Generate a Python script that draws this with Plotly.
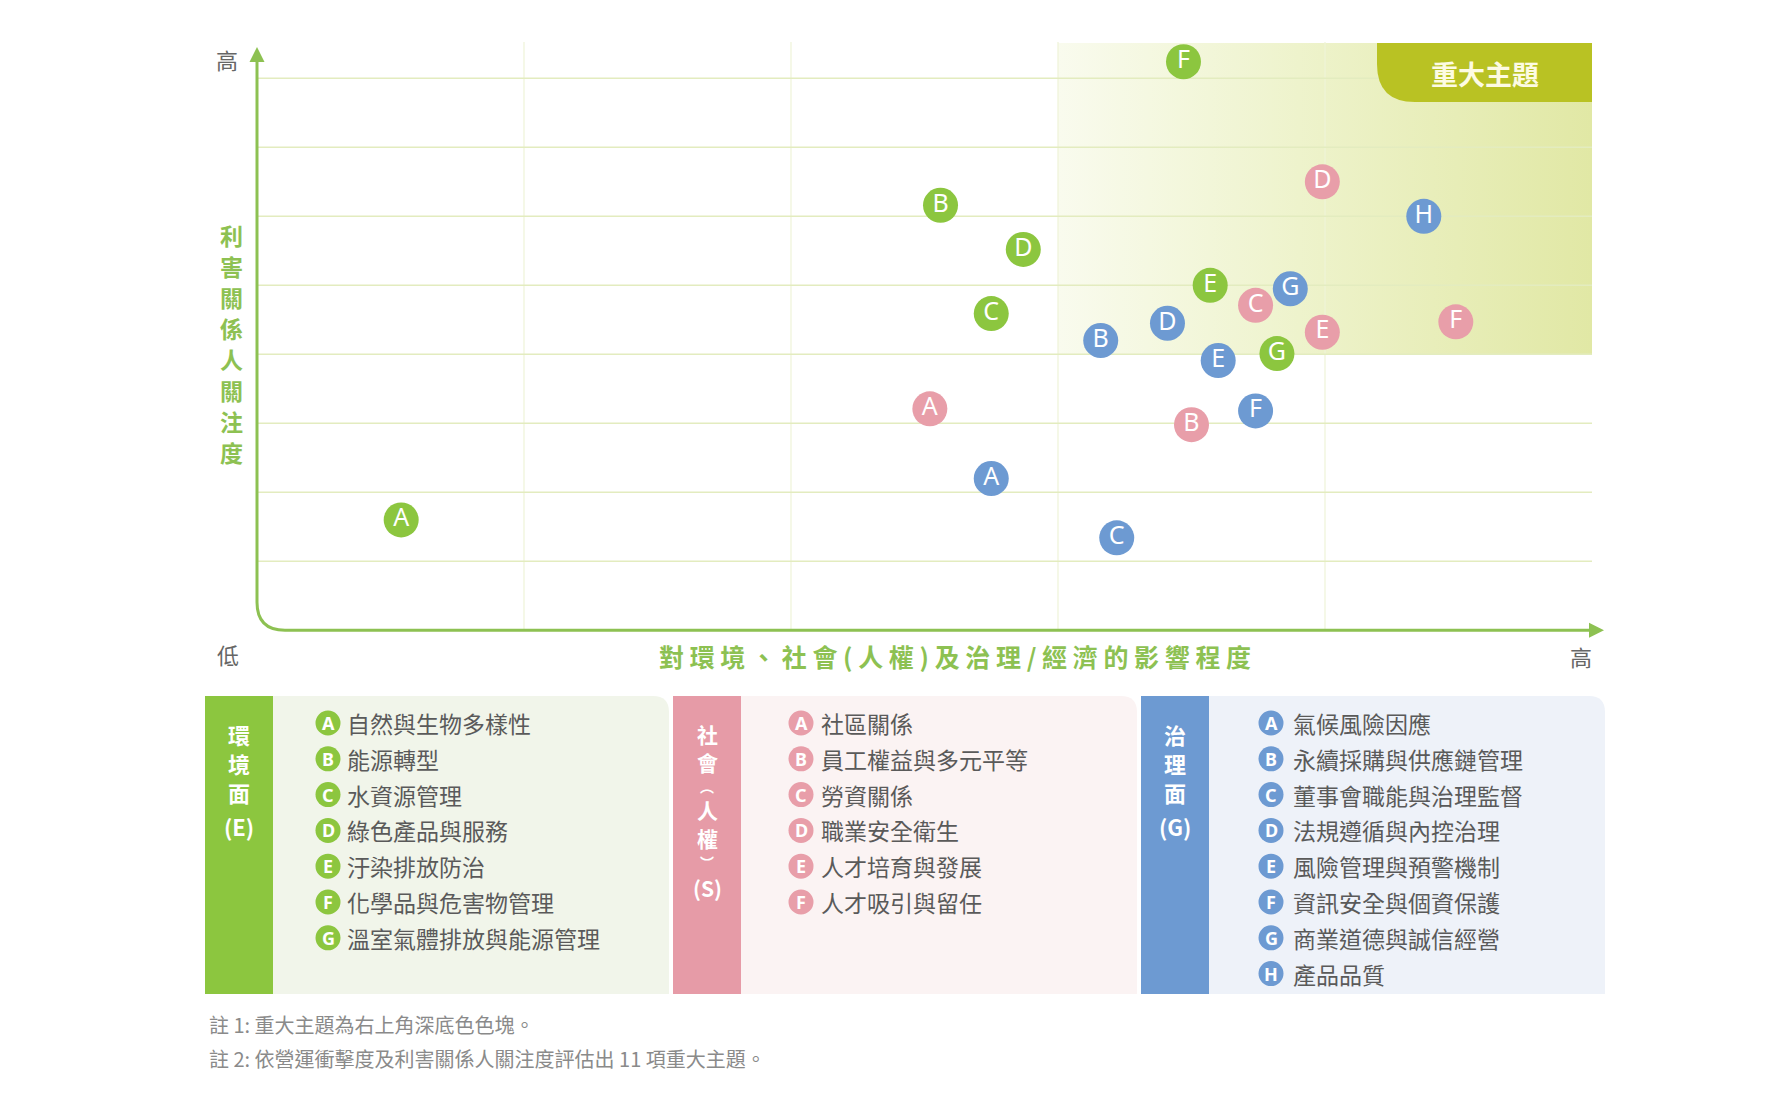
import plotly.graph_objects as go

W, H = 1771, 1108

# --- data -------------------------------------------------------------
env_codes = ["A", "B", "C", "D", "E", "F", "G"]
env_impact = [0.54, 2.56, 2.75, 2.87, 3.57, 3.47, 3.82]
env_concern = [1.60, 6.16, 4.59, 5.52, 5.00, 8.24, 4.01]
env_topics = ["自然與生物多樣性", "能源轉型", "水資源管理", "綠色產品與服務",
              "汙染排放防治", "化學品與危害物管理", "溫室氣體排放與能源管理"]

soc_codes = ["A", "B", "C", "D", "E", "F"]
soc_impact = [2.52, 3.50, 3.74, 3.99, 3.99, 4.49]
soc_concern = [3.21, 2.98, 4.71, 6.50, 4.32, 4.47]
soc_topics = ["社區關係", "員工權益與多元平等", "勞資關係", "職業安全衛生",
              "人才培育與發展", "人才吸引與留任"]

gov_codes = ["A", "B", "C", "D", "E", "F", "G", "H"]
gov_impact = [2.75, 3.16, 3.22, 3.41, 3.60, 3.74, 3.87, 4.37]
gov_concern = [2.20, 4.20, 1.34, 4.45, 3.91, 3.18, 4.95, 6.00]
gov_topics = ["氣候風險因應", "永續採購與供應鏈管理", "董事會職能與治理監督",
              "法規遵循與內控治理", "風險管理與預警機制", "資訊安全與個資保護",
              "商業道德與誠信經營", "產品品質"]

grid_x = [1, 2, 3, 4]
grid_y = [1, 2, 3, 4, 5, 6, 7, 8]
X_MAX = 5
MAT_X, MAT_Y = 3, 4          # 重大主題 threshold

notes = ["註 1: 重大主題為右上角深底色色塊。",
         "註 2: 依營運衝擊度及利害關係人關注度評估出 11 項重大主題。"]

# --- style ------------------------------------------------------------
GREEN = "#8cc63f"
PINK = "#e89ea9"
BLUE = "#6d9ad2"
AXIS_GREEN = "#8dc152"
CJK = "Noto Sans CJK TC"

# page body margin shifts the figure
OFF = 8

# pixel geometry of the plotting frame (page pixels)
PX_X0, PX_PER_X = 257, 267
PX_Y0, PX_PER_Y = 630.3, 69


def dx(p):
    return p / PX_PER_X


def dy(p):
    return p / PX_PER_Y


def fx(p):
    return (p - OFF) / W


def fy(p):
    return 1 - (p - OFF) / H


Y_TOP = (PX_Y0 - 43) / PX_PER_Y

fig = go.Figure()

# shaded material area
fig.add_trace(go.Scatter(
    x=[MAT_X, X_MAX, X_MAX, MAT_X, MAT_X],
    y=[MAT_Y, MAT_Y, Y_TOP, Y_TOP, MAT_Y],
    mode="lines", fill="toself", line=dict(width=0),
    fillgradient=dict(type="horizontal",
                      colorscale=[[0, "#f9fbee"], [0.45, "#eef3cc"], [1, "#e1e8a5"]]),
    hoverinfo="skip", showlegend=False,
))

# grid lines
hx, hy = [], []
for g in grid_y:
    hx += [0, X_MAX, None]
    hy += [g, g, None]
vx, vy = [], []
for g in grid_x:
    vx += [g, g, None]
    vy += [0, Y_TOP + dy(1), None]
fig.add_trace(go.Scatter(x=vx, y=vy, mode="lines", line=dict(color="#eef3d8", width=1.2),
                         hoverinfo="skip", showlegend=False))
fig.add_trace(go.Scatter(x=hx, y=hy, mode="lines", line=dict(color="#e3ecbf", width=1.6),
                         hoverinfo="skip", showlegend=False))

# topic markers
for codes, xs, ys, col in [(env_codes, env_impact, env_concern, GREEN),
                           (soc_codes, soc_impact, soc_concern, PINK),
                           (gov_codes, gov_impact, gov_concern, BLUE)]:
    fig.add_trace(go.Scatter(
        x=xs, y=ys, text=codes, mode="markers+text",
        marker=dict(size=35, color=col, line=dict(width=0)),
        textposition="middle center",
        textfont=dict(family="Noto Sans", size=25, color="white"),
        hoverinfo="skip", showlegend=False,
    ))

shapes = []
# axis lines with rounded corner
r_x, r_y = dx(28), dy(28)
y_arrow_base = (PX_Y0 - 62) / PX_PER_Y
y_arrow_tip = (PX_Y0 - 47) / PX_PER_Y
x_arrow_base = X_MAX + dx(-3)
x_arrow_tip = X_MAX + dx(12)
shapes.append(dict(
    type="path", xref="x", yref="y", layer="above",
    path=f"M 0,{y_arrow_base} L 0,{r_y} Q 0,0 {r_x},0 L {x_arrow_base},0",
    line=dict(color=AXIS_GREEN, width=3),
))
shapes.append(dict(
    type="path", xref="x", yref="y", layer="above",
    path=f"M {-dx(7.5)},{y_arrow_base} L 0,{y_arrow_tip} L {dx(7.5)},{y_arrow_base} Z",
    fillcolor=AXIS_GREEN, line=dict(width=0),
))
shapes.append(dict(
    type="path", xref="x", yref="y", layer="above",
    path=f"M {x_arrow_base},{dy(7.5)} L {x_arrow_tip},0 L {x_arrow_base},{-dy(7.5)} Z",
    fillcolor=AXIS_GREEN, line=dict(width=0),
))

# 重大主題 tab
tab_x0 = (1377 - PX_X0) / PX_PER_X
tab_y0 = (PX_Y0 - 102) / PX_PER_Y
rr_x, rr_y = dx(38), dy(38)
shapes.append(dict(
    type="path", xref="x", yref="y", layer="above",
    path=(f"M {tab_x0},{Y_TOP} L {X_MAX},{Y_TOP} L {X_MAX},{tab_y0} "
          f"L {tab_x0 + rr_x},{tab_y0} Q {tab_x0},{tab_y0} {tab_x0},{tab_y0 + rr_y} Z"),
    fillcolor="#b9c223", line=dict(width=0),
))

annotations = []


def text(x, y, s, size, color, anchor="center", weight="normal", family=CJK, ref="paper"):
    annotations.append(dict(
        x=x, y=y, xref=ref if ref == "paper" else "x", yref=ref if ref == "paper" else "y",
        text=s, showarrow=False, xanchor=anchor, yanchor="middle",
        font=dict(family=family, size=size, color=color, weight=weight),
    ))


text((tab_x0 + X_MAX) / 2, (Y_TOP + tab_y0) / 2 - dy(1), "重大主題", 27, "#fdfbe3",
     weight="bold", ref="data")

# axis end labels and titles
text(fx(227), fy(59), "高", 22, "#666666")
text(fx(228), fy(654), "低", 22, "#666666")
text(fx(1581), fy(656), "高", 22, "#666666")
for i, ch in enumerate("利害關係人關注度"):
    text(fx(232), fy(235 + i * 31), ch, 23, AXIS_GREEN, weight="bold")
text(fx(955), fy(656), " ".join("對環境、社會(人權)及治理/經濟的影響程度"), 25, AXIS_GREEN,
     weight="bold")

# legend panels: left edge, codes, topics, strip colour, dot colour, body colour,
# strip label (char, y, size), dot offset, text offset
env_label = [("環", 734, 22), ("境", 763, 22), ("面", 792, 22), ("(E)", 826, 22)]
soc_label = [("社", 734, 21), ("會", 762, 21), ("︵", 786, 14), ("人", 810, 21),
             ("權", 838, 21), ("︶", 862, 14), ("(S)", 888, 21)]
gov_label = [("治", 734, 22), ("理", 763, 22), ("面", 792, 22), ("(G)", 826, 22)]
panels = [
    (205, env_codes, env_topics, GREEN, GREEN, "#f1f5ea", env_label, 123, 17),
    (673, soc_codes, soc_topics, "#e69ba7", PINK, "#fbf3f3", soc_label, 128, 18),
    (1141, gov_codes, gov_topics, BLUE, BLUE, "#eef2f9", gov_label, 130, 20),
]
P_TOP, P_BOT, STRIP_W, PANEL_W, CR = 696, 994, 68, 464, 16
ROW0, ROW_STEP = 723, 35.8
for (left, codes, topics, strip_col, dot_col, body_col, strip_label,
     dot_off, txt_off) in panels:
    right = left + PANEL_W
    shapes.append(dict(
        type="path", xref="paper", yref="paper", layer="below",
        path=(f"M {fx(left + STRIP_W)},{fy(P_BOT)} L {fx(left + STRIP_W)},{fy(P_TOP)} "
              f"L {fx(right - CR)},{fy(P_TOP)} Q {fx(right)},{fy(P_TOP)} {fx(right)},{fy(P_TOP + CR)} "
              f"L {fx(right)},{fy(P_BOT)} Z"),
        fillcolor=body_col, line=dict(width=0),
    ))
    shapes.append(dict(
        type="rect", xref="paper", yref="paper", layer="below",
        x0=fx(left), x1=fx(left + STRIP_W), y0=fy(P_BOT), y1=fy(P_TOP),
        fillcolor=strip_col, line=dict(width=0),
    ))
    for ch, py, sz in strip_label:
        text(fx(left + STRIP_W / 2), fy(py), ch, sz, "white", weight="bold")
    cx = left + dot_off
    for i, (code, topic) in enumerate(zip(codes, topics)):
        cy = ROW0 + i * ROW_STEP
        shapes.append(dict(
            type="circle", xref="paper", yref="paper", layer="above",
            x0=fx(cx - 12.5), x1=fx(cx + 12.5), y0=fy(cy + 12.5), y1=fy(cy - 12.5),
            fillcolor=dot_col, line=dict(width=0),
        ))
        text(fx(cx), fy(cy), code, 18, "white", weight="bold", family="Noto Sans")
        text(fx(cx + txt_off), fy(cy), topic, 23, "#5a5a5a", anchor="left")

# notes
for i, n in enumerate(notes):
    text(fx(207), fy(1024 + i * 34), n, 20, "#8a8a8a", anchor="left")

fig.update_layout(
    width=W, height=H,
    margin=dict(l=0, r=0, t=0, b=0),
    paper_bgcolor="white", plot_bgcolor="rgba(0,0,0,0)",
    xaxis=dict(range=[-(PX_X0 - OFF) / PX_PER_X, (W - PX_X0 + OFF) / PX_PER_X],
               visible=False, fixedrange=True),
    yaxis=dict(range=[(PX_Y0 - OFF - H) / PX_PER_Y, (PX_Y0 - OFF) / PX_PER_Y],
               visible=False, fixedrange=True),
    shapes=shapes,
    annotations=annotations,
    showlegend=False,
)

fig.write_html("out.html")
